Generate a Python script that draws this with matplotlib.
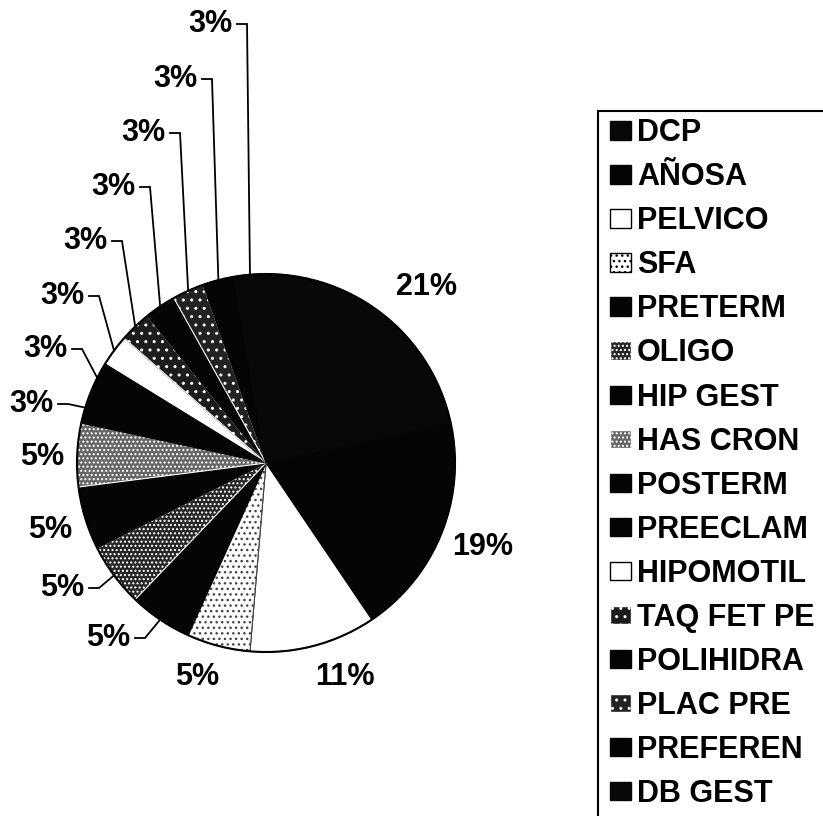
import matplotlib
matplotlib.use('Agg')
import matplotlib.pyplot as plt
import numpy as np
from matplotlib.patches import Circle, Patch, Rectangle

categories = ['DCP', 'AÑOSA', 'PELVICO', 'SFA', 'PRETERM', 'OLIGO', 'HIP GEST',
              'HAS CRON', 'POSTERM', 'PREECLAM', 'HIPOMOTIL', 'TAQ FET PE',
              'POLIHIDRA', 'PLAC PRE', 'PREFEREN', 'DB GEST']
counts = [8, 7, 4, 2, 2, 2, 2, 2, 1, 1, 1, 1, 1, 1, 1, 1]
pct_labels = ['21%', '19%', '11%', '5%', '5%', '5%', '5%', '5%',
              '3%', '3%', '3%', '3%', '3%', '3%', '3%', '3%']

# styles
face = ['#080808', '#050505', '#ffffff', '#ffffff', '#050505', '#262626', '#050505',
        '#666666', '#050505', '#050505', '#ffffff', '#1c1c1c', '#050505', '#222222',
        '#050505', '#080808']
hatch = [None, None, None, '...', None, '....', None, '....', None, None, None,
         '..', None, '..', None, None]
hatch_col = ['#080808', '#050505', 'black', '#444444', '#050505', 'white', '#050505',
             'white', '#050505', '#050505', 'black', 'white', '#050505', 'white',
             '#050505', '#080808']

# label positions in pixel coords (x, y from top)
label_px = [(427, 287), (483, 547), (345, 677), (197, 677), (108, 638), (62, 588),
            (50, 530), (42, 457), (31, 404), (45, 349), (62, 296), (85, 241),
            (113, 187), (143, 133), (175, 79), (210, 24)]
has_leader = [False, False, False, False, True, True, False, False,
              True, True, True, True, True, True, True, True]

W, H = 823, 816
fig = plt.figure(figsize=(W / 100, H / 100), dpi=100)
ax = fig.add_axes([0, 0, 1, 1])

cx, cy, r = 266, H - 463, 189
plt.rcParams['hatch.linewidth'] = 1.0
wedges, _ = ax.pie(counts, colors=face, startangle=90, counterclock=False,
                   center=(cx, cy), radius=r, frame=True,
                   wedgeprops=dict(linewidth=0.8, edgecolor='white'))
for w, h, hc in zip(wedges, hatch, hatch_col):
    w.set_edgecolor(hc)
    if h:
        w.set_hatch(h)
ax.add_patch(Circle((cx, cy), r, fill=False, edgecolor='black', linewidth=1.5))

ax.set_xlim(0, W)
ax.set_ylim(0, H)
ax.set_aspect('equal')
ax.set_axis_off()

font = dict(family=['Liberation Sans', 'DejaVu Sans'], weight='bold', size=22)
for w, lab, (px, py), lead in zip(wedges, pct_labels, label_px, has_leader):
    ly = H - py
    ax.text(px, ly, lab, ha='center', va='center', **font)
    if lead:
        mid = np.deg2rad((w.theta1 + w.theta2) / 2)
        ex, ey = cx + r * np.cos(mid), cy + r * np.sin(mid)
        sx = px + 27
        ax.plot([sx, sx + 10, ex], [ly, ly, ey], color='black', linewidth=1.3,
                solid_joinstyle='miter')

handles = []
for f, h, hc in zip(face, hatch, hatch_col):
    ec = 'black' if f == '#ffffff' else hc
    handles.append(Patch(facecolor=f, edgecolor=ec, hatch=h, linewidth=1.0))

leg = ax.legend(handles, categories, loc='upper left',
                bbox_to_anchor=(598 / W, 1 - 106 / H), bbox_transform=fig.transFigure,
                borderaxespad=0, frameon=False, prop=font, handlelength=0.68,
                handleheight=0.55, handletextpad=0.2, labelspacing=0.46, borderpad=0.4)
# legend frame runs past the right and bottom edges of the picture
ax.add_patch(Rectangle((598, -20), 300, H - 111 + 20, fill=False,
                       edgecolor='black', linewidth=1.5, clip_on=False))

fig.savefig('out.png', dpi=100)
